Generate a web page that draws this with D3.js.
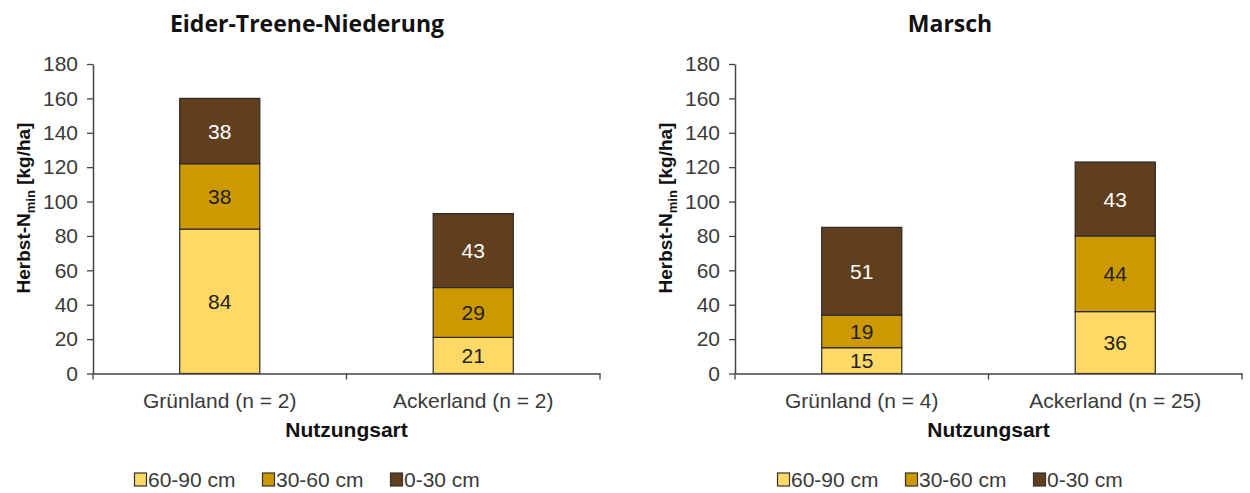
<!DOCTYPE html>
<html>
<head>
<meta charset="utf-8">
<script src="https://cdn.jsdelivr.net/npm/d3@7"></script>
<style>
  html, body { margin: 0; padding: 0; background: #fff; }
  svg { display: block; font-family: "Liberation Sans", Arial, sans-serif; }
</style>
</head>
<body>
<svg id="chart" width="1250" height="493"></svg>
<script>
// Soil depth layers (stack order bottom -> top)
const depths = ["60-90 cm", "30-60 cm", "0-30 cm"];
const depthColors = ["#FFD966", "#CC9900", "#5F3F1E"];
const depthLabelColors = ["#222222", "#222222", "#ffffff"];

// Eider-Treene-Niederung
const etnCategories = ["Grünland (n = 2)", "Ackerland (n = 2)"];
const etn6090 = [84, 21];
const etn3060 = [38, 29];
const etn030 = [38, 43];

// Marsch
const marschCategories = ["Grünland (n = 4)", "Ackerland (n = 25)"];
const marsch6090 = [15, 36];
const marsch3060 = [19, 44];
const marsch030 = [51, 43];

const yTicks = [0, 20, 40, 60, 80, 100, 120, 140, 160, 180];

const svg = d3.select("#chart");

function drawPanel(opts) {
  const { left, right, top, bottom, title, titleX, categories, layers, legendX } = opts;
  const g = svg.append("g");

  const x = d3.scaleBand().domain(categories).range([left, right])
    .paddingInner(0.684).paddingOuter(0.342);
  const y = d3.scaleLinear().domain([0, 180]).range([bottom, top]);

  // stacked data
  const rows = categories.map((c, i) => {
    const r = { cat: c };
    depths.forEach((d, k) => r[d] = layers[k][i]);
    return r;
  });
  const series = d3.stack().keys(depths)(rows);

  // bars
  series.forEach((s, k) => {
    g.selectAll(null).data(s).enter().append("rect")
      .attr("x", d => x(d.data.cat))
      .attr("y", d => y(d[1]))
      .attr("width", x.bandwidth())
      .attr("height", d => y(d[0]) - y(d[1]))
      .attr("fill", depthColors[k])
      .attr("stroke", "#2b2b2b")
      .attr("stroke-width", 1.2);
    g.selectAll(null).data(s).enter().append("text")
      .attr("x", d => x(d.data.cat) + x.bandwidth() / 2)
      .attr("y", d => (y(d[0]) + y(d[1])) / 2)
      .attr("dy", "0.36em")
      .attr("text-anchor", "middle")
      .attr("font-size", 21)
      .attr("fill", depthLabelColors[k])
      .text(d => d[1] - d[0]);
  });

  // y axis
  const yAxis = g.append("g")
    .attr("transform", `translate(${left},0)`)
    .call(d3.axisLeft(y).tickValues(yTicks).tickSize(6).tickPadding(9).tickSizeOuter(0));
  yAxis.select(".domain").attr("stroke", "#444").attr("stroke-width", 1.5);
  yAxis.selectAll(".tick line").attr("stroke", "#444").attr("stroke-width", 1.3);
  yAxis.selectAll(".tick text").attr("font-size", 21).attr("fill", "#3a3a3a")
    .attr("font-family", "Liberation Sans, Arial, sans-serif");

  // x axis
  const xAxis = g.append("g")
    .attr("transform", `translate(0,${bottom})`)
    .call(d3.axisBottom(x).tickSize(0).tickPadding(20).tickSizeOuter(0));
  xAxis.select(".domain").attr("stroke", "#444").attr("stroke-width", 1.5);
  xAxis.selectAll(".tick text").attr("font-size", 21).attr("fill", "#3a3a3a")
    .attr("font-family", "Liberation Sans, Arial, sans-serif");
  // category boundary ticks
  const bounds = d3.range(categories.length + 1).map(i => left + i * x.step());
  xAxis.selectAll(".bound").data(bounds).enter().append("line")
    .attr("x1", d => d).attr("x2", d => d)
    .attr("y1", 0).attr("y2", 6)
    .attr("stroke", "#444").attr("stroke-width", 1.3);

  // axis titles
  g.append("text")
    .attr("x", (left + right) / 2)
    .attr("y", bottom + 63)
    .attr("text-anchor", "middle")
    .attr("font-size", 21).attr("font-weight", "bold").attr("fill", "#111")
    .text("Nutzungsart");

  const yt = g.append("text")
    .attr("transform", `translate(${left - 63},${208}) rotate(-90)`)
    .attr("text-anchor", "middle")
    .attr("font-size", 19).attr("font-weight", "bold").attr("fill", "#111");
  yt.append("tspan").text("Herbst-N");
  yt.append("tspan").attr("font-size", 13).attr("dy", 5).text("min");
  yt.append("tspan").attr("dy", -5).text(" [kg/ha]");

  // panel title
  g.append("text")
    .attr("x", titleX).attr("y", 32)
    .attr("text-anchor", "middle")
    .attr("font-family", "Open Sans, sans-serif")
    .attr("font-size", 23).attr("font-weight", "bold").attr("fill", "#111")
    .text(title);

  // legend
  const leg = g.append("g").attr("transform", `translate(${legendX},${472})`);
  depths.forEach((d, k) => {
    const it = leg.append("g").attr("transform", `translate(${k * 128},0)`);
    it.append("rect").attr("x", 0.5).attr("y", 1).attr("width", 12).attr("height", 13)
      .attr("fill", depthColors[k]).attr("stroke", "#333").attr("stroke-width", 1.2);
    it.append("text").attr("x", 14).attr("y", 15)
      .attr("font-size", 21).attr("fill", "#3a3a3a").text(d);
  });
}

drawPanel({
  left: 93, right: 600, top: 64, bottom: 373.5,
  title: "Eider-Treene-Niederung", titleX: 307,
  categories: etnCategories,
  layers: [etn6090, etn3060, etn030],
  legendX: 134
});

drawPanel({
  left: 735, right: 1242, top: 64, bottom: 373.5,
  title: "Marsch", titleX: 950,
  categories: marschCategories,
  layers: [marsch6090, marsch3060, marsch030],
  legendX: 777
});
</script>
</body>
</html>
